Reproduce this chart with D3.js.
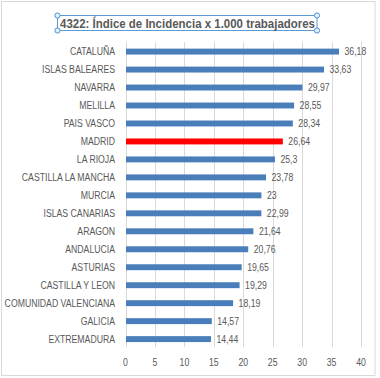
<!DOCTYPE html>
<html>
<head>
<meta charset="utf-8">
<script src="https://cdn.jsdelivr.net/npm/d3@7"></script>
<style>
  body { margin: 0; background: #fff; }
  text { font-family: "Liberation Sans", Arial, sans-serif; fill: #595959; }
</style>
</head>
<body>
<script>
const regions = ["CATALUÑA", "ISLAS BALEARES", "NAVARRA", "MELILLA", "PAIS VASCO", "MADRID",
  "LA RIOJA", "CASTILLA LA MANCHA", "MURCIA", "ISLAS CANARIAS", "ARAGON", "ANDALUCIA",
  "ASTURIAS", "CASTILLA Y LEON", "COMUNIDAD VALENCIANA", "GALICIA", "EXTREMADURA"];
const values = [36.18, 33.63, 29.97, 28.55, 28.34, 26.64, 25.3, 23.78, 23, 22.99, 21.64,
  20.76, 19.65, 19.29, 18.19, 14.57, 14.44];
const highlight = "MADRID";
const ticks = [0, 5, 10, 15, 20, 25, 30, 35, 40];
const title = "4322: Índice de Incidencia x 1.000 trabajadores";

const W = 380, H = 378;
const svg = d3.select("body").append("svg").attr("width", W).attr("height", H);

// outer chart border
svg.append("rect")
  .attr("x", 1.5).attr("y", 1.5).attr("width", 373.5).attr("height", 374)
  .attr("fill", "none").attr("stroke", "#d9d9d9");

const x = d3.scaleLinear().domain([0, 40]).range([125.5, 361]);
const y = d3.scaleBand().domain(regions).range([42.7, 348]).paddingInner(0.67).paddingOuter(0.33);

// gridlines
svg.append("g").selectAll("line").data(ticks).join("line")
  .attr("x1", d => Math.round(x(d)) + 0.5).attr("x2", d => Math.round(x(d)) + 0.5)
  .attr("y1", 42).attr("y2", 347)
  .attr("stroke", "#d9d9d9");

// bars
svg.append("g").selectAll("rect").data(regions).join("rect")
  .attr("x", x(0) + 0.5)
  .attr("y", d => y(d))
  .attr("width", (d, i) => x(values[i]) - x(0))
  .attr("height", y.bandwidth())
  .attr("fill", d => d === highlight ? "#ff0000" : "#4a7ebb");

const sx = 0.87;

// category labels
svg.append("g").selectAll("text").data(regions).join("text")
  .attr("transform", d => `translate(115,${y(d) + y.bandwidth() / 2 + 3.6}) scale(${sx},1)`)
  .attr("text-anchor", "end")
  .attr("font-size", 10)
  .text(d => d);

// value labels
svg.append("g").selectAll("text").data(regions).join("text")
  .attr("transform", (d, i) => `translate(${x(values[i]) + 6},${y(d) + y.bandwidth() / 2 + 3.6}) scale(${sx},1)`)
  .attr("font-size", 10)
  .text((d, i) => String(values[i]).replace(".", ","));

// tick labels
svg.append("g").selectAll("text").data(ticks).join("text")
  .attr("transform", d => `translate(${x(d)},${365.5}) scale(${sx},1)`)
  .attr("text-anchor", "middle")
  .attr("font-size", 10)
  .text(d => d);

// title with selection box
const tb = { x0: 57.5, y0: 15.5, x1: 317, y1: 30.5 };
svg.append("rect")
  .attr("x", tb.x0).attr("y", tb.y0).attr("width", tb.x1 - tb.x0).attr("height", tb.y1 - tb.y0)
  .attr("fill", "none").attr("stroke", "#5b9bd5").attr("stroke-width", 1);
svg.append("text")
  .attr("x", 60).attr("y", 27.5)
  .attr("font-size", 13).attr("font-weight", "bold")
  .attr("textLength", 255).attr("lengthAdjust", "spacingAndGlyphs")
  .text(title);
svg.append("g").selectAll("circle")
  .data([[tb.x0, tb.y0], [tb.x1, tb.y0], [tb.x0, tb.y1], [tb.x1, tb.y1]])
  .join("circle")
  .attr("cx", d => d[0]).attr("cy", d => d[1]).attr("r", 2.6)
  .attr("fill", "#e4effa").attr("stroke", "#4a90d9").attr("stroke-width", 1);
</script>
</body>
</html>
